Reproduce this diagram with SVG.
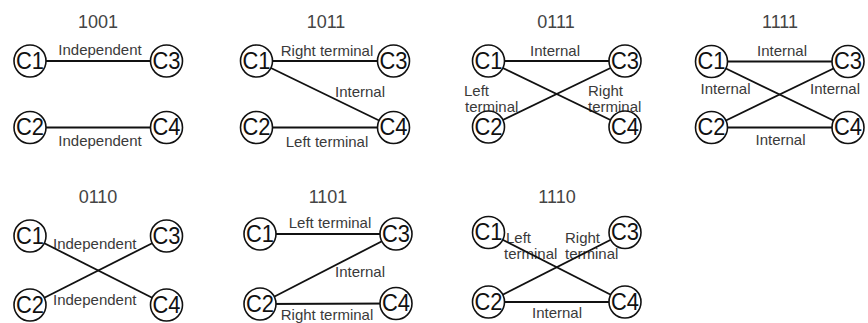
<svg xmlns="http://www.w3.org/2000/svg" width="868" height="323" viewBox="0 0 868 323">
  <style>
    .title { font-family: "Liberation Sans", Arial, sans-serif; font-size: 18px; fill: #444; text-anchor: middle; }
    .lbl { font-family: "Liberation Sans", Arial, sans-serif; font-size: 15px; fill: #3a3a3a; }
    .mid { text-anchor: middle; }
    .edge { stroke: #111; stroke-width: 1.8; fill: none; }
    .node circle { fill: #fff; stroke: #111; stroke-width: 1.6; }
    .node text { font-family: "Liberation Sans", Arial, sans-serif; font-size: 24px; fill: #111; text-anchor: middle; }
  </style>

  <rect width="868" height="323" fill="#fff"/>

  <!-- panel titles -->
  <g id="titles">
    <text class="title" x="98" y="28">1001</text>
    <text class="title" x="326" y="28">1011</text>
    <text class="title" x="556" y="28">0111</text>
    <text class="title" x="780" y="28">1111</text>
    <text class="title" x="98" y="203">0110</text>
    <text class="title" x="328" y="203">1101</text>
    <text class="title" x="557" y="203">1110</text>
  </g>

  <!-- edge labels -->
  <g id="edge-labels">
    <text class="lbl mid" x="100" y="55">Independent</text>
    <text class="lbl mid" x="100" y="146">Independent</text>

    <text class="lbl mid" x="327" y="56">Right terminal</text>
    <text class="lbl mid" x="360" y="97">Internal</text>
    <text class="lbl mid" x="327" y="147">Left terminal</text>

    <text class="lbl mid" x="555" y="56">Internal</text>
    <text class="lbl" x="464" y="96">Left</text>
    <text class="lbl" x="465" y="112">terminal</text>
    <text class="lbl" x="588" y="96">Right</text>
    <text class="lbl" x="588" y="112">terminal</text>

    <text class="lbl mid" x="782" y="56">Internal</text>
    <text class="lbl mid" x="725.5" y="94">Internal</text>
    <text class="lbl mid" x="835" y="94">Internal</text>
    <text class="lbl mid" x="780.5" y="145">Internal</text>

    <text class="lbl" x="53" y="249">Independent</text>
    <text class="lbl" x="53" y="305">Independent</text>

    <text class="lbl mid" x="330" y="228">Left terminal</text>
    <text class="lbl mid" x="360" y="277">Internal</text>
    <text class="lbl mid" x="327" y="320">Right terminal</text>

    <text class="lbl" x="506" y="243">Left</text>
    <text class="lbl" x="504" y="259">terminal</text>
    <text class="lbl" x="565" y="243">Right</text>
    <text class="lbl" x="565" y="259">terminal</text>
    <text class="lbl mid" x="557" y="318">Internal</text>
  </g>

  <!-- connectors (drawn centre to centre, nodes cover the ends) -->
  <g id="connectors" class="edge">
    <line x1="30" y1="61" x2="166.5" y2="61"/>
    <line x1="30" y1="127.5" x2="166.5" y2="127.5"/>

    <line x1="256.5" y1="61" x2="393.5" y2="61"/>
    <line x1="256.5" y1="61" x2="393.5" y2="127.5"/>
    <line x1="256.5" y1="127.5" x2="393.5" y2="127.5"/>

    <line x1="488.5" y1="61" x2="625" y2="61"/>
    <line x1="488.5" y1="61" x2="625" y2="127"/>
    <line x1="488.5" y1="127" x2="625" y2="61"/>

    <line x1="711.5" y1="61.5" x2="848" y2="61.5"/>
    <line x1="711.5" y1="61.5" x2="848" y2="127.5"/>
    <line x1="711.5" y1="127.5" x2="848" y2="61.5"/>
    <line x1="711.5" y1="127.5" x2="848" y2="127.5"/>

    <line x1="30" y1="236" x2="166.5" y2="305"/>
    <line x1="30" y1="305" x2="166.5" y2="236"/>

    <line x1="260" y1="234" x2="396" y2="234"/>
    <line x1="260" y1="304" x2="396" y2="234"/>
    <line x1="260" y1="304" x2="396" y2="303.5"/>

    <line x1="488.5" y1="232.5" x2="625" y2="302"/>
    <line x1="488.5" y1="302" x2="625" y2="232.5"/>
    <line x1="488.5" y1="302" x2="625" y2="302"/>
  </g>

  <!-- nodes: 1001 -->
  <g id="p1001-c1" class="node" transform="translate(30,61)"><circle r="16"/><text y="7.5" textLength="28" lengthAdjust="spacingAndGlyphs">C1</text></g>
  <g id="p1001-c3" class="node" transform="translate(166.5,61)"><circle r="16"/><text y="7.5" textLength="28" lengthAdjust="spacingAndGlyphs">C3</text></g>
  <g id="p1001-c2" class="node" transform="translate(30,127.5)"><circle r="16"/><text y="7.5" textLength="28" lengthAdjust="spacingAndGlyphs">C2</text></g>
  <g id="p1001-c4" class="node" transform="translate(166.5,127.5)"><circle r="16"/><text y="7.5" textLength="28" lengthAdjust="spacingAndGlyphs">C4</text></g>

  <!-- nodes: 1011 -->
  <g id="p1011-c1" class="node" transform="translate(256.5,61)"><circle r="16"/><text y="7.5" textLength="28" lengthAdjust="spacingAndGlyphs">C1</text></g>
  <g id="p1011-c3" class="node" transform="translate(393.5,61)"><circle r="16"/><text y="7.5" textLength="28" lengthAdjust="spacingAndGlyphs">C3</text></g>
  <g id="p1011-c2" class="node" transform="translate(256.5,127.5)"><circle r="16"/><text y="7.5" textLength="28" lengthAdjust="spacingAndGlyphs">C2</text></g>
  <g id="p1011-c4" class="node" transform="translate(393.5,127.5)"><circle r="16"/><text y="7.5" textLength="28" lengthAdjust="spacingAndGlyphs">C4</text></g>

  <!-- nodes: 0111 -->
  <g id="p0111-c1" class="node" transform="translate(488.5,61)"><circle r="16"/><text y="7.5" textLength="28" lengthAdjust="spacingAndGlyphs">C1</text></g>
  <g id="p0111-c3" class="node" transform="translate(625,61)"><circle r="16"/><text y="7.5" textLength="28" lengthAdjust="spacingAndGlyphs">C3</text></g>
  <g id="p0111-c2" class="node" transform="translate(488.5,127)"><circle r="16"/><text y="7.5" textLength="28" lengthAdjust="spacingAndGlyphs">C2</text></g>
  <g id="p0111-c4" class="node" transform="translate(625,127)"><circle r="16"/><text y="7.5" textLength="28" lengthAdjust="spacingAndGlyphs">C4</text></g>

  <!-- nodes: 1111 -->
  <g id="p1111-c1" class="node" transform="translate(711.5,61.5)"><circle r="16"/><text y="7.5" textLength="28" lengthAdjust="spacingAndGlyphs">C1</text></g>
  <g id="p1111-c3" class="node" transform="translate(848,61.5)"><circle r="16"/><text y="7.5" textLength="28" lengthAdjust="spacingAndGlyphs">C3</text></g>
  <g id="p1111-c2" class="node" transform="translate(711.5,127.5)"><circle r="16"/><text y="7.5" textLength="28" lengthAdjust="spacingAndGlyphs">C2</text></g>
  <g id="p1111-c4" class="node" transform="translate(848,127.5)"><circle r="16"/><text y="7.5" textLength="28" lengthAdjust="spacingAndGlyphs">C4</text></g>

  <!-- nodes: 0110 -->
  <g id="p0110-c1" class="node" transform="translate(30,236)"><circle r="16"/><text y="7.5" textLength="28" lengthAdjust="spacingAndGlyphs">C1</text></g>
  <g id="p0110-c3" class="node" transform="translate(166.5,236)"><circle r="16"/><text y="7.5" textLength="28" lengthAdjust="spacingAndGlyphs">C3</text></g>
  <g id="p0110-c2" class="node" transform="translate(30,305)"><circle r="16"/><text y="7.5" textLength="28" lengthAdjust="spacingAndGlyphs">C2</text></g>
  <g id="p0110-c4" class="node" transform="translate(166.5,305)"><circle r="16"/><text y="7.5" textLength="28" lengthAdjust="spacingAndGlyphs">C4</text></g>

  <!-- nodes: 1101 -->
  <g id="p1101-c1" class="node" transform="translate(260,234)"><circle r="16"/><text y="7.5" textLength="28" lengthAdjust="spacingAndGlyphs">C1</text></g>
  <g id="p1101-c3" class="node" transform="translate(396,234)"><circle r="16"/><text y="7.5" textLength="28" lengthAdjust="spacingAndGlyphs">C3</text></g>
  <g id="p1101-c2" class="node" transform="translate(260,304)"><circle r="16"/><text y="7.5" textLength="28" lengthAdjust="spacingAndGlyphs">C2</text></g>
  <g id="p1101-c4" class="node" transform="translate(396,303.5)"><circle r="16"/><text y="7.5" textLength="28" lengthAdjust="spacingAndGlyphs">C4</text></g>

  <!-- nodes: 1110 -->
  <g id="p1110-c1" class="node" transform="translate(488.5,232.5)"><circle r="16"/><text y="7.5" textLength="28" lengthAdjust="spacingAndGlyphs">C1</text></g>
  <g id="p1110-c3" class="node" transform="translate(625,232.5)"><circle r="16"/><text y="7.5" textLength="28" lengthAdjust="spacingAndGlyphs">C3</text></g>
  <g id="p1110-c2" class="node" transform="translate(488.5,302)"><circle r="16"/><text y="7.5" textLength="28" lengthAdjust="spacingAndGlyphs">C2</text></g>
  <g id="p1110-c4" class="node" transform="translate(625,302)"><circle r="16"/><text y="7.5" textLength="28" lengthAdjust="spacingAndGlyphs">C4</text></g>
</svg>
